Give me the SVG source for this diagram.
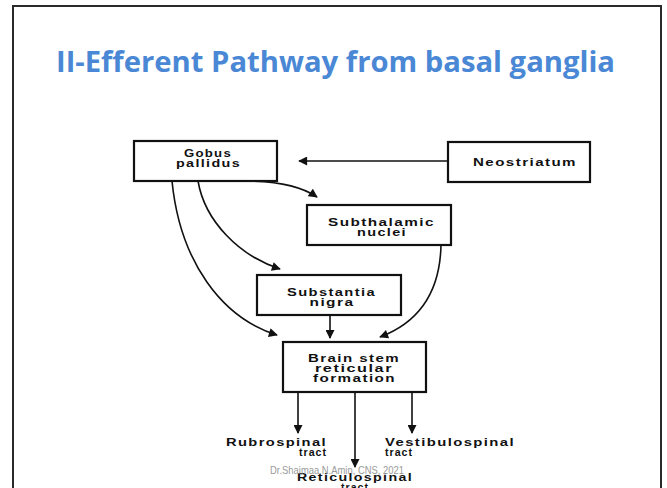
<svg xmlns="http://www.w3.org/2000/svg" width="667" height="488" viewBox="0 0 667 488">
  <defs>
    <style>
      .frame { fill: #ffffff; stroke: #2a2a2a; stroke-width: 2; }
      .title { font-family: "Open Sans", "Liberation Sans", sans-serif; font-weight: 700; font-size: 28px; fill: #4a88d6; }
      .box { fill: #ffffff; stroke: #111111; stroke-width: 2.2; }
      .lbl { font-family: "Liberation Sans", Arial, sans-serif; font-weight: bold; font-size: 10.5px; letter-spacing: 1px; fill: #111111; }
      .edge { fill: none; stroke: #111111; stroke-width: 1.6; marker-end: url(#head); }
      .mark { font-family: "Liberation Sans", Arial, sans-serif; font-size: 10.5px; fill: #9a9a9a; }
    </style>
    <marker id="head" viewBox="0 0 10 10" refX="9" refY="5" markerUnits="userSpaceOnUse" markerWidth="10" markerHeight="9" orient="auto">
      <path d="M0,0 L10,5 L0,10 z" fill="#111111"/>
    </marker>
  </defs>

  <rect x="0" y="0" width="667" height="488" fill="#ffffff"/>
  <rect class="frame" x="13" y="6" width="648" height="500"/>

  <text class="title" x="56" y="72" textLength="559" lengthAdjust="spacingAndGlyphs">II-Efferent Pathway from basal ganglia</text>

  <g id="connectors">
    <line class="edge" x1="448" y1="161" x2="299" y2="161"/>
    <path class="edge" d="M236,181 Q292,180 317,197"/>
    <path class="edge" d="M198,181 C205,222 240,256 280,269"/>
    <path class="edge" d="M172,181 C180,262 222,318 277,335"/>
    <path class="edge" d="M441,245 C440,292 420,322 380,337"/>
    <line class="edge" x1="330" y1="315" x2="330" y2="338"/>
    <line class="edge" x1="298" y1="392" x2="298" y2="433"/>
    <line class="edge" x1="355" y1="392" x2="355" y2="467"/>
    <line class="edge" x1="412" y1="392" x2="412" y2="433"/>
  </g>

  <g id="globus-pallidus">
    <rect class="box" x="134" y="141" width="143" height="40"/>
    <text class="lbl" x="208" y="157" text-anchor="middle" textLength="48" lengthAdjust="spacingAndGlyphs">Gobus</text>
    <text class="lbl" x="208.5" y="167" text-anchor="middle" textLength="65" lengthAdjust="spacingAndGlyphs">pallidus</text>
  </g>

  <g id="neostriatum">
    <rect class="box" x="448" y="142" width="142" height="40"/>
    <text class="lbl" x="525" y="166" text-anchor="middle" textLength="104" lengthAdjust="spacingAndGlyphs">Neostriatum</text>
  </g>

  <g id="subthalamic-nuclei">
    <rect class="box" x="307" y="205" width="144" height="40"/>
    <text class="lbl" x="381.5" y="226" text-anchor="middle" textLength="107" lengthAdjust="spacingAndGlyphs">Subthalamic</text>
    <text class="lbl" x="382" y="236" text-anchor="middle" textLength="50" lengthAdjust="spacingAndGlyphs">nuclei</text>
  </g>

  <g id="substantia-nigra">
    <rect class="box" x="257" y="275" width="144" height="40"/>
    <text class="lbl" x="331.5" y="296" text-anchor="middle" textLength="89" lengthAdjust="spacingAndGlyphs">Substantia</text>
    <text class="lbl" x="332" y="306" text-anchor="middle" textLength="45" lengthAdjust="spacingAndGlyphs">nigra</text>
  </g>

  <g id="brain-stem">
    <rect class="box" x="283" y="342" width="143" height="50"/>
    <text class="lbl" x="354" y="362" text-anchor="middle" textLength="92" lengthAdjust="spacingAndGlyphs">Brain stem</text>
    <text class="lbl" x="354" y="372" text-anchor="middle" textLength="78" lengthAdjust="spacingAndGlyphs">reticular</text>
    <text class="lbl" x="354.5" y="382" text-anchor="middle" textLength="83" lengthAdjust="spacingAndGlyphs">formation</text>
  </g>

  <g id="rubrospinal">
    <text class="lbl" x="226" y="446" textLength="101" lengthAdjust="spacingAndGlyphs">Rubrospinal</text>
    <text class="lbl" x="327" y="455.5" text-anchor="end" textLength="28" lengthAdjust="spacingAndGlyphs">tract</text>
  </g>

  <g id="vestibulospinal">
    <text class="lbl" x="385" y="446" textLength="130" lengthAdjust="spacingAndGlyphs">Vestibulospinal</text>
    <text class="lbl" x="385" y="455.5" textLength="28" lengthAdjust="spacingAndGlyphs">tract</text>
  </g>

  <g id="reticulospinal">
    <text class="lbl" x="297" y="481" textLength="116" lengthAdjust="spacingAndGlyphs">Reticulospinal</text>
    <text class="lbl" x="355" y="491" text-anchor="middle" textLength="28" lengthAdjust="spacingAndGlyphs">tract</text>
  </g>

  <text class="mark" x="270" y="474" textLength="134" lengthAdjust="spacingAndGlyphs">Dr.Shaimaa N.Amin, CNS, 2021</text>
</svg>
